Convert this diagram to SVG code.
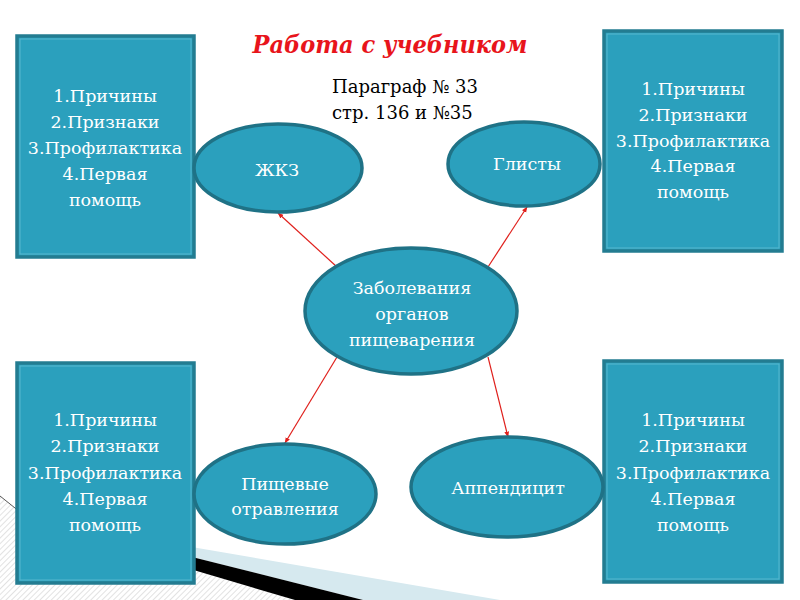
<svg xmlns="http://www.w3.org/2000/svg" width="800" height="600" viewBox="0 0 800 600">
  <defs>
    <pattern id="hatch" width="4" height="4" patternUnits="userSpaceOnUse" patternTransform="rotate(45)">
      <rect width="4" height="4" fill="#ffffff"/>
      <line x1="0" y1="0" x2="0" y2="4" stroke="#cfcfcf" stroke-width="1.2"/>
    </pattern>
    <marker id="arr" viewBox="0 0 10 10" refX="9" refY="5" markerWidth="6" markerHeight="6" orient="auto" markerUnits="userSpaceOnUse">
      <path d="M0,1 L10,5 L0,9 Z" fill="#e0201c"/>
    </marker>
    <style>
      .serif { font-family: "DejaVu Serif", "Liberation Serif", serif; }
      .box { fill: #2ba0bd; stroke: #237c91; stroke-width: 3.5; }
      .boxin { fill: none; stroke: #58b8cf; stroke-width: 1; }
      .ell { fill: #2ba0bd; stroke: #1f7286; stroke-width: 3.5; }
      .t { fill: #ffffff; text-anchor: middle; }
      .bt { font-size: 17.5px; }
      .et { font-size: 17.5px; }
      .conn { stroke: #e0201c; stroke-width: 1.2; fill: none; marker-end: url(#arr); }
    </style>
  </defs>
  <rect width="800" height="600" fill="#ffffff"/>

  <g id="decor">
    <path d="M0,496 L30,520 L194,570 L295,600 L0,600 Z" fill="url(#hatch)"/>
    <path d="M0,496 L30,520" stroke="#555" stroke-width="1" fill="none"/>
    <path d="M180,545 L500,600 L363,600 L180,554 Z" fill="#d6e9ef"/>
    <path d="M180,554 L363,600 L295,600 L180,566 Z" fill="#000000"/>
  </g>

  <text class="serif" x="390" y="53" font-size="25" font-weight="bold" font-style="italic" font-stretch="condensed" fill="#e8141b" text-anchor="middle">Работа с учебником</text>
  <text class="serif" font-size="18" fill="#000000">
    <tspan x="332" y="93">Параграф № 33</tspan>
    <tspan x="332" y="119">стр. 136 и №35</tspan>
  </text>

  <g id="box-tl">
    <rect class="box" x="17" y="36" width="177" height="221"/>
    <rect class="boxin" x="20" y="39" width="171" height="215"/>
    <text class="serif t bt"><tspan x="105" y="102">1.Причины</tspan><tspan x="105" y="128">2.Признаки</tspan><tspan x="105" y="154">3.Профилактика</tspan><tspan x="105" y="180">4.Первая</tspan><tspan x="105" y="206">помощь</tspan></text>
  </g>
  <g id="box-tr">
    <rect class="box" x="604" y="31" width="178" height="220"/>
    <rect class="boxin" x="607" y="34" width="172" height="214"/>
    <text class="serif t bt"><tspan x="693" y="95">1.Причины</tspan><tspan x="693" y="121">2.Признаки</tspan><tspan x="693" y="147">3.Профилактика</tspan><tspan x="693" y="172">4.Первая</tspan><tspan x="693" y="198">помощь</tspan></text>
  </g>
  <g id="box-bl">
    <rect class="box" x="17" y="363" width="177" height="220"/>
    <rect class="boxin" x="20" y="366" width="171" height="214"/>
    <text class="serif t bt"><tspan x="105" y="426">1.Причины</tspan><tspan x="105" y="452">2.Признаки</tspan><tspan x="105" y="479">3.Профилактика</tspan><tspan x="105" y="505">4.Первая</tspan><tspan x="105" y="531">помощь</tspan></text>
  </g>
  <g id="box-br">
    <rect class="box" x="604" y="361" width="178" height="221"/>
    <rect class="boxin" x="607" y="364" width="172" height="215"/>
    <text class="serif t bt"><tspan x="693" y="426">1.Причины</tspan><tspan x="693" y="452">2.Признаки</tspan><tspan x="693" y="479">3.Профилактика</tspan><tspan x="693" y="505">4.Первая</tspan><tspan x="693" y="531">помощь</tspan></text>
  </g>

  <g id="connectors">
    <line class="conn" x1="337" y1="267" x2="278" y2="213"/>
    <line class="conn" x1="488" y1="267" x2="527" y2="207"/>
    <line class="conn" x1="337" y1="357" x2="285" y2="443"/>
    <line class="conn" x1="488" y1="357" x2="508" y2="437"/>
  </g>

  <g id="n-zhkz">
    <ellipse class="ell" cx="278" cy="168" rx="84" ry="44"/>
    <text class="serif t et" x="277" y="176">ЖКЗ</text>
  </g>
  <g id="n-glisty">
    <ellipse class="ell" cx="524" cy="164" rx="76" ry="42"/>
    <text class="serif t et" x="527" y="170">Глисты</text>
  </g>
  <g id="n-center">
    <ellipse class="ell" cx="411" cy="311" rx="106" ry="63"/>
    <text class="serif t et"><tspan x="412" y="294">Заболевания</tspan><tspan x="412" y="320">органов</tspan><tspan x="412" y="346">пищеварения</tspan></text>
  </g>
  <g id="n-pishch">
    <ellipse class="ell" cx="285" cy="494" rx="91" ry="50"/>
    <text class="serif t et"><tspan x="285" y="490">Пищевые</tspan><tspan x="285" y="515">отравления</tspan></text>
  </g>
  <g id="n-append">
    <ellipse class="ell" cx="507" cy="487" rx="96" ry="50"/>
    <text class="serif t et" x="508" y="494">Аппендицит</text>
  </g>
</svg>
